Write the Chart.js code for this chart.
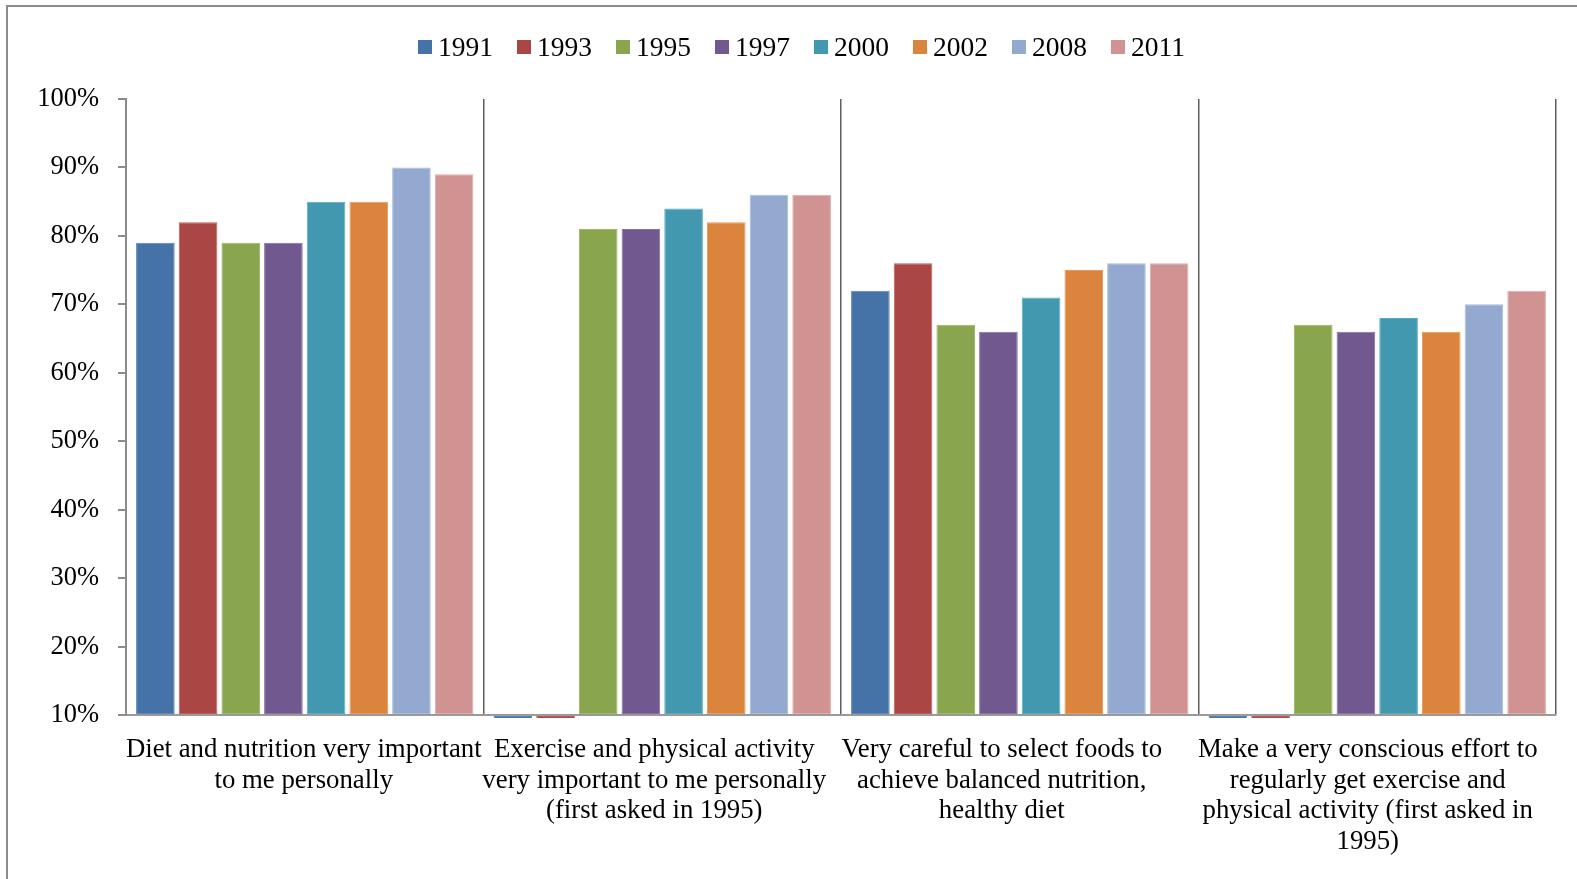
<!DOCTYPE html>
<html>
<head>
<meta charset="utf-8">
<script src="https://cdn.jsdelivr.net/npm/chart.js@4/dist/chart.umd.min.js"></script>
<style>
  html, body { margin: 0; padding: 0; background: #fff; }
  #wrap { position: relative; width: 1577px; height: 879px; overflow: hidden; }
  #frame { position: absolute; left: 6px; top: 5px; width: 1600px; height: 900px;
           border-top: 2px solid #8c8c8c; border-left: 2px solid #8c8c8c; box-sizing: border-box; }
  #chart { position: absolute; left: 0; top: 0; }
  #legend { position: absolute; left: 418px; top: 33px; display: flex; align-items: center;
            font-family: 'Liberation Serif', 'Times New Roman', serif; font-size: 27.5px; color: #000; }
  #legend .item { display: flex; align-items: center; margin-right: 24px; line-height: 28px; }
  #legend .box { width: 14px; height: 14px; margin-right: 6px; }
</style>
</head>
<body>
<div id="wrap">
  <div id="frame"></div>
  <canvas id="chart" width="1577" height="879"></canvas>
  <div id="legend"></div>
</div>
<script>
// Survey statements (x categories), multi-line as printed under the axis
const categories = [
  ["Diet and nutrition very important", "to me personally"],
  ["Exercise and physical activity", "very important to me personally", "(first asked in 1995)"],
  ["Very careful to select foods to", "achieve balanced nutrition,", "healthy diet"],
  ["Make a very conscious effort to", "regularly get exercise and", "physical activity (first asked in", "1995)"]
];

// Survey years
const years = ["1991", "1993", "1995", "1997", "2000", "2002", "2008", "2011"];

// Percent agreeing, per year, one value per statement (0 = not asked that year)
const v1991 = [79, 0, 72, 0];
const v1993 = [82, 0, 76, 0];
const v1995 = [79, 81, 67, 67];
const v1997 = [79, 81, 66, 66];
const v2000 = [85, 84, 71, 68];
const v2002 = [85, 82, 75, 66];
const v2008 = [90, 86, 76, 70];
const v2011 = [89, 86, 76, 72];

// Y axis tick range (percent)
const yMin = 10;
const yMax = 100;
const yStep = 10;

const seriesValues = [v1991, v1993, v1995, v1997, v2000, v2002, v2008, v2011];
const fillColors = ["#4572A7", "#AA4643", "#89A54E", "#71588F", "#4198AF", "#DB843D", "#93A9CF", "#D19392"];
const edgeColors = ["#5b86b8", "#bd5c59", "#9cb766", "#8570a2", "#58acc2", "#e59a5a", "#a9bcdc", "#deaaa9"];

const FONT = "'Liberation Serif', 'Times New Roman', serif";
const LABEL_SIZE = 26.8;
const LABEL_LINE = 30.55;

// Category labels, drawn under each tick with a small horizontal nudge per label
const categoryLabelPlugin = {
  id: 'categoryLabels',
  afterDraw(chart, args, opts) {
    const xs = chart.scales.x;
    const ctx = chart.ctx;
    ctx.save();
    ctx.fillStyle = '#000';
    ctx.font = LABEL_SIZE + 'px ' + FONT;
    ctx.textAlign = 'center';
    ctx.textBaseline = 'middle';
    const top = xs.top + opts.padding;
    chart.data.labels.forEach((lines, i) => {
      const cx = xs.getPixelForTick(i) + (opts.nudge[i] || 0);
      lines.forEach((line, j) => {
        ctx.fillText(line, cx, top + LABEL_LINE * (j + 0.5));
      });
    });
    ctx.restore();
  }
};

const datasets = years.map((y, i) => ({
  label: y,
  data: seriesValues[i],
  backgroundColor: fillColors[i],
  borderColor: edgeColors[i],
  borderWidth: 1,
  borderSkipped: false,
  base: yMin,
  categoryPercentage: 0.955,
  barPercentage: 0.905,
  // allow the small stub for unasked years to show just below the axis
  clip: { left: 0, top: 0, right: 0, bottom: 3 }
}));

const chart = new Chart(document.getElementById('chart'), {
  type: 'bar',
  data: { labels: categories, datasets },
  plugins: [categoryLabelPlugin],
  options: {
    responsive: false,
    animation: false,
    layout: { padding: { left: 0, right: 21, top: 99, bottom: 0 } },
    plugins: {
      legend: { display: false },
      tooltip: { enabled: false },
      categoryLabels: { padding: 20, nudge: [-1, -8, -18, -9.5] }
    },
    scales: {
      x: {
        z: 1,
        offset: true,
        grid: {
          offset: true,
          drawTicks: false,
          color: (ctx) => ctx.index === 0 ? 'rgba(0,0,0,0)' : '#5e5e5e',
          lineWidth: 1.5
        },
        border: { display: true, color: '#9a9a9a', width: 2 },
        ticks: { display: false, autoSkip: false },
        afterFit: (s) => { s.height = 879 - 715; }
      },
      y: {
        z: 1,
        min: yMin,
        max: yMax,
        ticks: {
          stepSize: yStep,
          padding: 19,
          color: '#000',
          font: { family: FONT, size: 26.5 },
          callback: (v) => v + '%'
        },
        grid: {
          drawOnChartArea: false,
          drawTicks: true,
          tickLength: 8,
          color: '#8c8c8c',
          lineWidth: 2
        },
        border: { display: true, color: '#8c8c8c', width: 2 },
        afterFit: (s) => { s.width = 126; }
      }
    }
  }
});

// Legend row built from the chart's datasets
const legendEl = document.getElementById('legend');
chart.data.datasets.forEach((ds) => {
  const item = document.createElement('div');
  item.className = 'item';
  const box = document.createElement('span');
  box.className = 'box';
  box.style.background = ds.backgroundColor;
  const txt = document.createElement('span');
  txt.textContent = ds.label;
  item.appendChild(box);
  item.appendChild(txt);
  legendEl.appendChild(item);
});
</script>
</body>
</html>
